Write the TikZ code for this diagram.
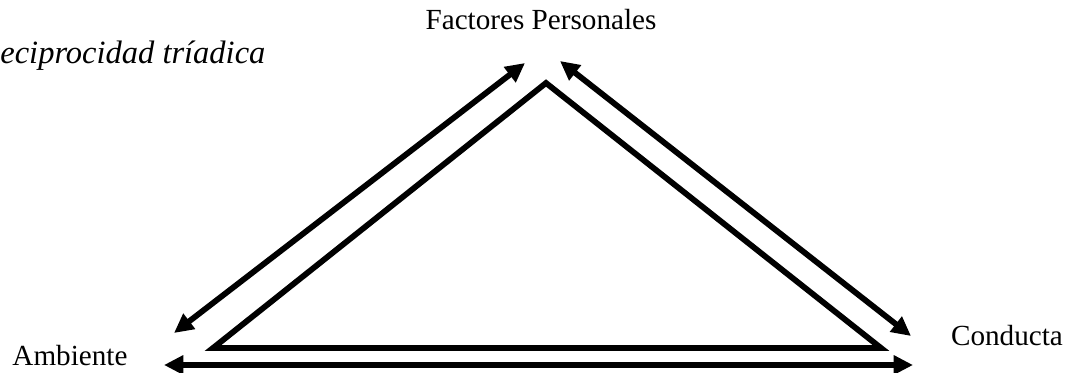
\documentclass[tikz,border=0pt]{standalone}
\usepackage{fontspec}
\setmainfont{Liberation Serif}
\usetikzlibrary{arrows.meta}

\begin{document}
\begin{tikzpicture}[x=0.02cm,y=-0.02cm,
        rel/.style={line width=3.3pt,{Triangle[length=11pt,width=10.5pt]}-{Triangle[length=11pt,width=10.5pt]}},
        lbl/.style={font=\fontsize{16.6}{19}\selectfont,inner sep=0pt}]
        \useasboundingbox (0,0) rectangle (1067,372);
        % vertices of the triangle
        \coordinate (top) at (546,83);
        \coordinate (left) at (213,348);
        \coordinate (right) at (881,348);
        \draw[line width=3.3pt,line join=miter] (top) -- (right) -- (left) -- cycle;
        % labels
        \node[lbl,anchor=base west,font=\fontsize{18.5}{21}\selectfont] (titulo) at (0,63) {\itshape eciprocidad tríadica};
        \node[lbl,anchor=base] (pers) at (541,30) {Factores Personales};
        \node[lbl,anchor=base] (amb) at (70,365) {Ambiente};
        \node[lbl,anchor=base] (cond) at (1007,345) {Conducta};
        % arrow ends
        \coordinate (a1) at (525,63);
        \coordinate (a2) at (174,333);
        \coordinate (b1) at (560,61);
        \coordinate (b2) at (911,336);
        \coordinate (c1) at (164,365);
        \coordinate (c2) at (913,365);
        \draw[rel] (a1) -- (a2);
        \draw[rel] (b1) -- (b2);
        \draw[rel] (c1) -- (c2);
\end{tikzpicture}
\end{document}
